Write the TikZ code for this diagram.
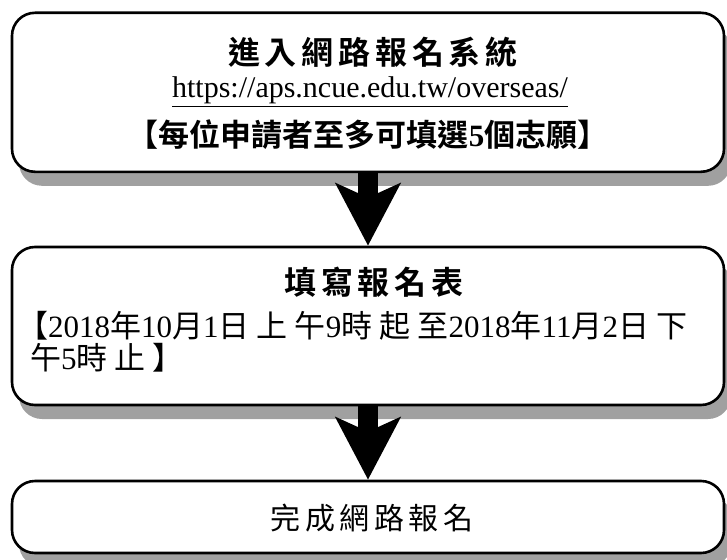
\documentclass[tikz,border=0pt]{standalone}
\usepackage{fontspec}
\setmainfont{Liberation Serif}
\newfontfamily\cjk{Noto Sans CJK TC}[BoldFont={Noto Sans CJK TC Bold}]
\newfontfamily\cjksp{Noto Sans CJK TC}[BoldFont={Noto Sans CJK TC Bold}, LetterSpace=15]
\newfontfamily\cjkwide{Noto Sans CJK TC}[LetterSpace=23]
\usetikzlibrary{shadows,arrows.meta}
\definecolor{shadowgray}{RGB}{160,160,160}
\newcommand\zh[1]{{\cjk #1}}
\newcommand\zs[1]{{\cjksp #1}}
\newcommand\zw[1]{{\cjkwide #1}}

\begin{document}
\begin{tikzpicture}[x=1pt, y=1pt,
  box/.style={draw, fill=white, line width=2.6pt, rounded corners=23pt, minimum width=712pt, inner sep=0pt,
    drop shadow={shadow xshift=7pt, shadow yshift=-14pt, fill=shadowgray, opacity=1}},
  flow/.style={line width=20pt, -{Stealth[length=62pt, width=64pt, inset=14pt]}},
  txt/.style={inner sep=0pt, anchor=base, font=\fontsize{30}{36}\selectfont},
  head/.style={txt, font=\fontsize{32}{36}\selectfont\bfseries}]
  \useasboundingbox (0,0) rectangle (727,-559);
  \node[box, minimum height=159pt] (reg) at (368,-92.3) {};
  \node[box, minimum height=158pt] (form) at (368,-326) {};
  \node[box, minimum height=72pt] (done) at (368,-517) {};
  \node[head] (regtitle) at (373,-65) {\zs{進入網路報名系統}};
  \node[txt] (url) at (370,-98) {\underline{https://aps.ncue.edu.tw/overseas/}};
  \node[txt, font=\fontsize{31}{36}\selectfont\bfseries] (regnote) at (368,-146)
    {\zh{【每位申請者至多可填選}5\zh{個志願】}};
  \node[head] (formtitle) at (374,-294) {\zs{填寫報名表}};
  \node[txt, anchor=base west, font=\fontsize{31}{36}\selectfont] (period) at (17,-337)
    {\zw{【}2018\zw{年}10\zw{月}1\zw{日上午}9\zw{時起至}2018\zw{年}11\zw{月}2\zw{日下}};
  \node[txt, anchor=base west, font=\fontsize{31}{36}\selectfont] (periodend) at (30,-369)
    {\zw{午}5\zw{時止】}};
  \node[txt] (donetext) at (372,-529) {\zs{完成網路報名}};
  \draw[flow] (reg.south) -- (form.north);
  \draw[flow] (form.south) -- (done.north);
\end{tikzpicture}
\end{document}
